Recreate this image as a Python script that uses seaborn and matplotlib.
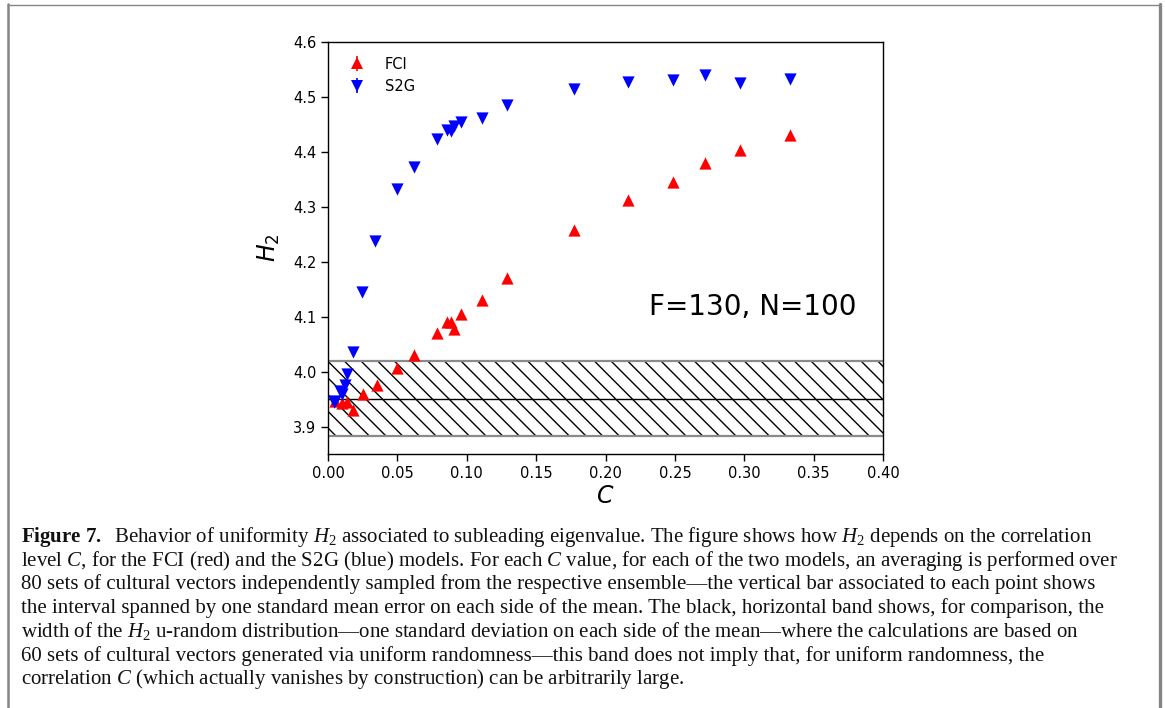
import matplotlib
matplotlib.use("Agg")
import matplotlib.pyplot as plt
import numpy as np
import pandas as pd
import seaborn as sns
from matplotlib.lines import Line2D
from matplotlib.legend_handler import HandlerTuple

# ---------------- data ----------------
fci_C = [0.005, 0.010, 0.014, 0.018, 0.025, 0.035, 0.050, 0.062, 0.0786, 0.0858,
         0.089, 0.0908, 0.0955, 0.111, 0.129, 0.177, 0.216, 0.249, 0.272, 0.297, 0.333]
fci_H = [3.947, 3.942, 3.944, 3.931, 3.960, 3.975, 4.007, 4.031, 4.071, 4.090,
         4.091, 4.078, 4.105, 4.130, 4.171, 4.258, 4.312, 4.345, 4.379, 4.404, 4.431]
fci_err = [0.006, 0.006, 0.006, 0.006, 0.005, 0.005, 0.005, 0.005, 0.005, 0.005,
           0.005, 0.005, 0.005, 0.004, 0.004, 0.004, 0.004, 0.004, 0.004, 0.004, 0.004]

s2g_C = [0.004, 0.005, 0.009, 0.010, 0.012, 0.014, 0.018, 0.0245, 0.034, 0.050, 0.062,
         0.0786, 0.0858, 0.089, 0.0908, 0.0955, 0.111, 0.129, 0.177, 0.216, 0.249,
         0.272, 0.297, 0.333]
s2g_H = [3.944, 3.947, 3.965, 3.960, 3.975, 3.996, 4.035, 4.144, 4.238, 4.333, 4.373,
         4.424, 4.440, 4.438, 4.447, 4.455, 4.462, 4.485, 4.515, 4.527, 4.530,
         4.540, 4.526, 4.533]
s2g_err = [0.006, 0.006, 0.006, 0.006, 0.006, 0.006, 0.005, 0.005, 0.005, 0.005, 0.005,
           0.004, 0.004, 0.004, 0.004, 0.004, 0.004, 0.004, 0.004, 0.004, 0.004,
           0.004, 0.004, 0.004]

band_mean = 3.951
band_sd = 0.068

series_names = ["FCI", "S2G"]
x_ticks = [0.00, 0.05, 0.10, 0.15, 0.20, 0.25, 0.30, 0.35, 0.40]
y_ticks = [3.9, 4.0, 4.1, 4.2, 4.3, 4.4, 4.5, 4.6]
annotation = "F=130, N=100"

caption_lines = [
    r"$\mathbf{Figure\ 7.}$  Behavior of uniformity $H_2$ associated to subleading eigenvalue. The figure shows how $H_2$ depends on the correlation",
    r"level $C$, for the FCI (red) and the S2G (blue) models. For each $C$ value, for each of the two models, an averaging is performed over",
    r"80 sets of cultural vectors independently sampled from the respective ensemble—the vertical bar associated to each point shows",
    r"the interval spanned by one standard mean error on each side of the mean. The black, horizontal band shows, for comparison, the",
    r"width of the $H_2$ u-random distribution—one standard deviation on each side of the mean—where the calculations are based on",
    r"60 sets of cultural vectors generated via uniform randomness—this band does not imply that, for uniform randomness, the",
    r"correlation $C$ (which actually vanishes by construction) can be arbitrarily large.",
]

# ---------------- style ----------------
sns.set_style("ticks")
plt.rcParams["font.family"] = ["DejaVu Sans"]
plt.rcParams["text.color"] = "black"
plt.rcParams["axes.labelcolor"] = "black"
plt.rcParams["mathtext.rm"] = "Liberation Serif"
plt.rcParams["mathtext.it"] = "Liberation Serif:italic"
plt.rcParams["mathtext.bf"] = "Liberation Serif:bold"
plt.rcParams["hatch.linewidth"] = 1.0

W, H = 1165, 708
fig = plt.figure(figsize=(W / 100, H / 100), dpi=100)
fig.patch.set_facecolor("white")
ax = fig.add_axes([328 / W, 1 - 454 / H, 555 / W, 412 / H])

# band
ax.axhspan(band_mean - band_sd, band_mean + band_sd, facecolor="none",
           edgecolor="black", linewidth=0, hatch="\\\\", zorder=1)
ax.axhline(band_mean - band_sd, color="#8a8a8a", lw=1.6, zorder=1.5)
ax.axhline(band_mean + band_sd, color="#8a8a8a", lw=1.6, zorder=1.5)
ax.axhline(band_mean, color="black", lw=1.0, zorder=1.5)

df_f = pd.DataFrame({"C": fci_C, "H2": fci_H, "err": fci_err})
df_s = pd.DataFrame({"C": s2g_C, "H2": s2g_H, "err": s2g_err})

ms = 8.8
eb_f = ax.errorbar(df_f["C"], df_f["H2"], yerr=df_f["err"], fmt="none",
                   ecolor="red", elinewidth=1.2, zorder=2)
sns.scatterplot(data=df_f, x="C", y="H2", marker="^", color="red",
                s=ms ** 2, linewidth=0, ax=ax, zorder=3)
eb_s = ax.errorbar(df_s["C"], df_s["H2"], yerr=df_s["err"], fmt="none",
                   ecolor="blue", elinewidth=1.2, zorder=2)
sns.scatterplot(data=df_s, x="C", y="H2", marker="v", color="blue",
                s=ms ** 2, linewidth=0, ax=ax, zorder=3)

ax.set_xlim(0, 0.40)
ax.set_ylim(3.85, 4.6)
ax.set_xticks(x_ticks)
ax.set_xticklabels([f"{t:.2f}" for t in x_ticks])
ax.set_yticks(y_ticks)
ax.set_yticklabels([f"{t:.1f}" for t in y_ticks])
ax.tick_params(axis="both", direction="out", length=5, width=1,
               labelsize=10.5, color="black", labelcolor="black")
for sp in ax.spines.values():
    sp.set_visible(True)
    sp.set_color("black")
    sp.set_linewidth(1.0)

ax.set_xlabel(r"$C$", fontsize=17, labelpad=2, color="black")
ax.set_ylabel(r"$H_2$", fontsize=17, labelpad=8, color="black")

ax.text(0.306, 4.118, annotation, fontsize=20, ha="center", va="center",
        color="black")

p_f = Line2D([], [], marker="^", color="red", ls="none", ms=ms, mew=0)
p_s = Line2D([], [], marker="v", color="blue", ls="none", ms=ms, mew=0)
leg = ax.legend([(eb_f, p_f), (eb_s, p_s)], series_names,
                handler_map={tuple: HandlerTuple(ndivide=1)},
                loc="upper left", frameon=False, fontsize=10.5,
                borderaxespad=0.6, handletextpad=0.9)
for t in leg.get_texts():
    t.set_color("black")

# caption
y0 = 542
for i, line in enumerate(caption_lines):
    t = fig.text(21 / W, 1 - (y0 + i * 23.7) / H, line, fontsize=15.0,
                 family="Liberation Serif", ha="left", va="baseline",
                 color="#111111")
    t.set_math_fontfamily("custom")

# page border
gray = "#858585"
fig.add_artist(Line2D([7.5 / W, 7.5 / W], [0, 1 - 4 / H], color=gray, lw=1.8,
                      transform=fig.transFigure))
fig.add_artist(Line2D([7.5 / W, 1159 / W], [1 - 4.5 / H, 1 - 4.5 / H], color=gray,
                      lw=1.0, transform=fig.transFigure))
fig.add_artist(Line2D([1159.5 / W, 1159.5 / W], [0, 1 - 4 / H], color=gray, lw=2.4,
                      transform=fig.transFigure))

fig.savefig("out.png", dpi=100, facecolor="white")
